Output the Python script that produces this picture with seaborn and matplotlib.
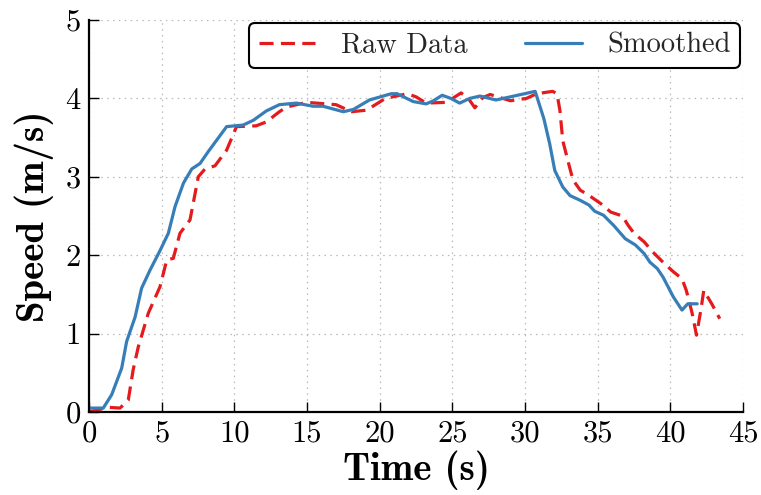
import matplotlib
matplotlib.use("Agg")
import matplotlib.pyplot as plt
import seaborn as sns
import pandas as pd

raw_t = [0.0, 1.33, 2.13, 2.7, 3.04, 3.39, 4.08, 4.89, 5.35, 5.8, 6.26, 6.95, 7.52, 7.98, 8.67,
         9.47, 10.15, 11.5, 12.2, 13.1, 13.6, 14.97, 17.0, 18.06, 19.1, 20.4, 21.9, 22.5, 23.2,
         24.6, 25.6, 26.1, 26.55, 27.1, 27.6, 29.0, 30.1, 30.8, 31.9, 32.2, 32.4, 32.6, 33.0,
         33.3, 33.8, 34.5, 35.2, 35.9, 36.7, 37.1, 37.5, 38.2, 38.8, 39.5, 40.2, 40.8, 41.1,
         41.5, 41.8, 42.1, 42.3, 42.85, 43.4]
raw_v = [0.0, 0.06, 0.05, 0.15, 0.54, 0.83, 1.26, 1.60, 1.94, 1.96, 2.28, 2.45, 3.0, 3.10, 3.14,
         3.34, 3.64, 3.65, 3.70, 3.83, 3.89, 3.95, 3.92, 3.83, 3.85, 4.00, 4.06, 4.02, 3.94,
         3.95, 4.07, 4.00, 3.88, 4.01, 4.05, 3.97, 4.00, 4.06, 4.09, 4.06, 3.85, 3.46, 3.17,
         2.96, 2.83, 2.75, 2.66, 2.55, 2.50, 2.38, 2.28, 2.17, 2.04, 1.91, 1.79, 1.70, 1.55,
         1.26, 0.98, 1.30, 1.55, 1.38, 1.19]

smooth_t = [0.07, 0.98, 1.56, 2.25, 2.59, 3.17, 3.62, 4.2, 4.89, 5.46, 5.92, 6.5, 7.07, 7.64,
            8.2, 9.47, 10.6, 11.3, 12.2, 13.1, 14.28, 15.42, 16.1, 17.5, 18.2, 19.3, 20.8, 21.2,
            22.3, 23.2, 23.7, 24.3, 24.9, 25.5, 26.2, 26.9, 28.0, 29.0, 30.7, 31.3, 31.7, 32.05,
            32.6, 33.1, 33.8, 34.4, 34.8, 35.4, 36.1, 36.9, 37.6, 38.2, 38.6, 39.1, 39.5, 40.2,
            40.8, 41.2, 41.85]
smooth_v = [0.05, 0.05, 0.22, 0.56, 0.90, 1.21, 1.58, 1.81, 2.06, 2.28, 2.62, 2.92, 3.10, 3.17,
            3.32, 3.64, 3.66, 3.72, 3.84, 3.92, 3.94, 3.90, 3.90, 3.83, 3.86, 3.98, 4.06, 4.06,
            3.96, 3.93, 3.97, 4.04, 4.00, 3.94, 4.00, 4.03, 3.98, 4.02, 4.09, 3.74, 3.42, 3.08,
            2.87, 2.76, 2.70, 2.64, 2.56, 2.51, 2.38, 2.21, 2.13, 2.02, 1.91, 1.83, 1.72, 1.47,
            1.30, 1.38, 1.38]

x_ticks = [0, 5, 10, 15, 20, 25, 30, 35, 40, 45]
y_ticks = [0, 1, 2, 3, 4, 5]

sns.set_theme(style="white")
plt.rcParams['font.family'] = ['cmr10', 'DejaVu Sans']
plt.rcParams['mathtext.fontset'] = 'cm'
plt.rcParams['axes.formatter.use_mathtext'] = True

fig = plt.figure(figsize=(7.61, 4.95), dpi=100)
ax = fig.add_axes([89 / 761, 83 / 495, (743 - 89) / 761, (412 - 20) / 495])

raw_df = pd.DataFrame({"t": raw_t, "v": raw_v})
sm_df = pd.DataFrame({"t": smooth_t, "v": smooth_v})

sns.lineplot(data=raw_df, x="t", y="v", ax=ax, color="#e41a1c", linewidth=2.3,
             dashes=False, label="Raw Data", sort=False, estimator=None)
sns.lineplot(data=sm_df, x="t", y="v", ax=ax, color="#377eb8", linewidth=2.3,
             label="Smoothed", sort=False, estimator=None)
ax.lines[0].set_dashes((4.4, 2.3))

ax.set_xlim(0, 45)
ax.set_ylim(0, 5)
ax.set_xticks(x_ticks)
ax.set_yticks(y_ticks)
ax.set_xticklabels([str(v) for v in x_ticks])
ax.set_yticklabels([str(v) for v in y_ticks])

ax.grid(True, linestyle=(0, (1.2, 3.5)), color="#b8b8b8", linewidth=0.9)
for s in ["top", "right"]:
    ax.spines[s].set_visible(False)
for s in ["left", "bottom"]:
    ax.spines[s].set_color("black")
    ax.spines[s].set_linewidth(1.6)

ax.tick_params(axis="both", direction="in", length=7, width=1.0, colors="black",
               labelsize=22, bottom=True, left=True)
ax.tick_params(axis="x", pad=6)
ax.tick_params(axis="y", pad=6)

ax.set_xlabel("Time (s)", fontsize=28, family="cmb10", labelpad=2, color="black")
ax.set_ylabel("Speed (m/s)", fontsize=28, family="cmb10", labelpad=8, color="black")

leg = ax.legend(loc="upper right", ncol=2, fontsize=20.5, frameon=True, fancybox=True,
                edgecolor="black", handlelength=2.0, handletextpad=0.9, columnspacing=2.0,
                borderaxespad=0.1, borderpad=0.33, framealpha=1.0)
leg.get_frame().set_linewidth(1.5)

fig.savefig("out.png", dpi=100)
